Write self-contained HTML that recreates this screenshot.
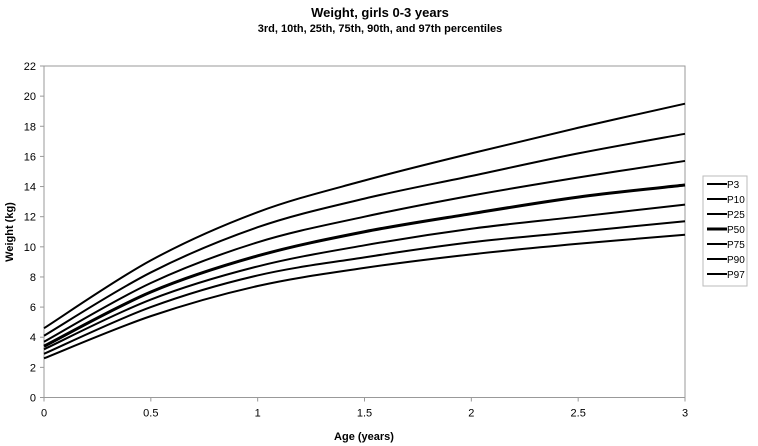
<!DOCTYPE html>
<html><head><meta charset="utf-8"><style>
body{margin:0;background:#fff;}
svg{display:block;font-family:"Liberation Sans",Arial,sans-serif;}
</style></head><body>
<svg id="chart" width="758" height="446">
<text x="380" y="17" text-anchor="middle" font-size="13" font-weight="bold">Weight, girls 0-3 years</text>
<text x="380" y="32" text-anchor="middle" font-size="11" font-weight="bold">3rd, 10th, 25th, 75th, 90th, and 97th percentiles</text>
<g id="grid"></g>
<g id="axes"></g>
<g id="series"></g>
<g id="legend"></g>
<text x="364" y="440" text-anchor="middle" font-size="11" font-weight="bold">Age (years)</text>
<text transform="translate(13,232) rotate(-90)" text-anchor="middle" font-size="11" font-weight="bold">Weight (kg)</text>
</svg>
<script>
const ages=[0,0.5,1,1.5,2,2.5,3];
const seriesNames=["P3","P10","P25","P50","P75","P90","P97"];
const p3=[2.6,5.4,7.4,8.6,9.5,10.2,10.8];
const p10=[2.9,6.0,8.1,9.3,10.3,11.0,11.7];
const p25=[3.2,6.5,8.7,10.1,11.2,12.0,12.8];
const p50=[3.4,7.0,9.4,11.0,12.2,13.3,14.1];
const p75=[3.7,7.6,10.3,12.0,13.4,14.6,15.7];
const p90=[4.1,8.3,11.3,13.2,14.7,16.2,17.5];
const p97=[4.6,9.1,12.3,14.4,16.2,17.9,19.5];
const xTicks=[0,0.5,1,1.5,2,2.5,3];
const yTicks=[0,2,4,6,8,10,12,14,16,18,20,22];
const NS="http://www.w3.org/2000/svg";
const L=44,R=685,T=66,B=397.5;
const xs=v=>L+(v-0)/3*(R-L);
const ys=v=>B-v/22*(B-T);
function mk(tag,attrs,parent){const e=document.createElementNS(NS,tag);for(const k in attrs)e.setAttribute(k,attrs[k]);parent.appendChild(e);return e;}
const axes=document.getElementById('axes');
const frame=mk('rect',{x:L,y:T,width:R-L,height:B-T,fill:'none',stroke:'#999','stroke-width':1},axes);


yTicks.forEach(v=>{
 const t=mk('line',{x1:L-4,x2:L,y1:ys(v),y2:ys(v),stroke:'#999'},axes);
 
 
 const tx=mk('text',{x:L-8,y:ys(v)+4,'text-anchor':'end','font-size':11},axes);
 tx.textContent=v;
 
 
});
xTicks.forEach(v=>{
 const t=mk('line',{x1:xs(v),x2:xs(v),y1:B,y2:B+4,stroke:'#999'},axes);
 
 
 const tx=mk('text',{x:xs(v),y:B+19,'text-anchor':'middle','font-size':11},axes);
 tx.textContent=v;
 
 
});
function pathFor(vals){
 const p=ages.map((a,i)=>[xs(a),ys(vals[i])]);
 let d='M'+p[0][0]+','+p[0][1];
 for(let i=0;i<p.length-1;i++){
  const p0=p[i-1]||p[i],p1=p[i],p2=p[i+1],p3_=p[i+2]||p[i+1];
  const c1=[p1[0]+(p2[0]-p0[0])/6,p1[1]+(p2[1]-p0[1])/6];
  const c2=[p2[0]-(p3_[0]-p1[0])/6,p2[1]-(p3_[1]-p1[1])/6];
  d+=' C'+c1+' '+c2+' '+p2;
 }
 return d;
}
const all=[p3,p10,p25,p50,p75,p90,p97];
const sg=document.getElementById('series');
const lg=document.getElementById('legend');
const box=mk('rect',{x:703,y:176,width:44,height:110,fill:'#fff',stroke:'#bbb'},lg);


all.forEach((vals,i)=>{
 const w=seriesNames[i]==='P50'?3:2;
 const path=mk('path',{d:pathFor(vals),fill:'none',stroke:'#000','stroke-width':w},sg);
 
 
 const y=184+i*15;
 const g=mk('g',{},lg);
 
 
 mk('line',{x1:707,x2:727,y1:y,y2:y,stroke:'#000','stroke-width':w},g);
 const t=mk('text',{x:727,y:y+4,'font-size':10},g);
 t.textContent=seriesNames[i];
});
</script>
</body></html>
